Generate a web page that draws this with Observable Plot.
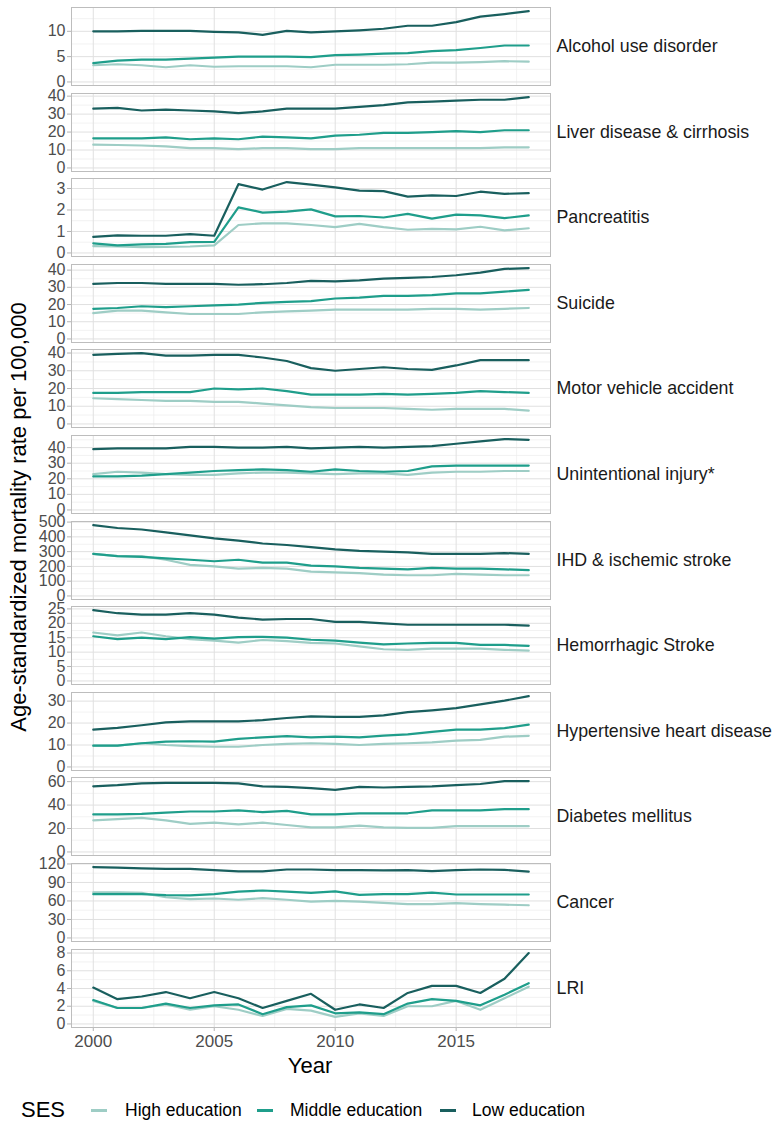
<!DOCTYPE html>
<html>
<head>
<meta charset="utf-8">
<script src="https://cdn.jsdelivr.net/npm/d3@7"></script>
<script src="https://cdn.jsdelivr.net/npm/@observablehq/plot@0.6"></script>
<style>
  body { margin: 0; background: #fff; font-family: "Liberation Sans", Arial, sans-serif; }
  #chart { position: relative; width: 775px; height: 1122px; overflow: hidden; background: #fff; }
  .panel { position: absolute; left: 0; }
  .ytitle { position: absolute; left: 19px; top: 517px; transform: translate(-50%, -50%) rotate(-90deg); white-space: nowrap; font-size: 22px; color: #000; }
  .xtitle { position: absolute; left: 310px; top: 1066px; transform: translate(-50%, -50%); font-size: 22px; color: #000; }
  .leg { position: absolute; top: 1110px; transform: translateY(-50%); white-space: nowrap; color: #000; }
  .key { position: absolute; top: 1109px; height: 2.5px; width: 16px; }
</style>
</head>
<body>
<div id="chart"></div>
<script>
// ---------- data ----------
const years = [2000, 2001, 2002, 2003, 2004, 2005, 2006, 2007, 2008, 2009, 2010, 2011, 2012, 2013, 2014, 2015, 2016, 2017, 2018];
const sesNames = ["High education", "Middle education", "Low education"];
const sesColors = ["#9ecdc5", "#1f9e8b", "#195f5e"];

const alcoholHigh   = [3.3, 3.5, 3.3, 2.9, 3.3, 3.0, 3.1, 3.1, 3.1, 2.9, 3.4, 3.4, 3.4, 3.5, 3.8, 3.8, 3.9, 4.1, 4.0];
const alcoholMiddle = [3.7, 4.2, 4.4, 4.4, 4.6, 4.8, 5.0, 5.0, 5.0, 4.9, 5.3, 5.4, 5.6, 5.7, 6.1, 6.3, 6.7, 7.2, 7.2];
const alcoholLow    = [10.0, 10.0, 10.1, 10.1, 10.1, 9.9, 9.8, 9.3, 10.1, 9.8, 10.0, 10.2, 10.5, 11.1, 11.1, 11.8, 12.9, 13.4, 14.0];

const liverHigh   = [13, 12.8, 12.5, 12, 11, 11, 10.5, 11, 11, 10.5, 10.5, 11, 11, 11, 11, 11, 11, 11.5, 11.5];
const liverMiddle = [16.5, 16.5, 16.5, 17, 16, 16.5, 16, 17.5, 17, 16.5, 18, 18.5, 19.5, 19.5, 20, 20.5, 20, 21, 21];
const liverLow    = [33, 33.5, 32, 32.5, 32, 31.5, 30.5, 31.5, 33, 33, 33, 34, 35, 36.5, 37, 37.5, 38, 38, 39.5];

const pancHigh   = [0.32, 0.30, 0.27, 0.28, 0.30, 0.35, 1.30, 1.38, 1.38, 1.30, 1.20, 1.35, 1.20, 1.08, 1.12, 1.10, 1.22, 1.05, 1.15];
const pancMiddle = [0.45, 0.35, 0.40, 0.42, 0.50, 0.52, 2.12, 1.88, 1.92, 2.03, 1.70, 1.72, 1.65, 1.82, 1.60, 1.78, 1.75, 1.62, 1.75];
const pancLow    = [0.75, 0.82, 0.80, 0.80, 0.88, 0.80, 3.20, 2.95, 3.30, 3.18, 3.05, 2.90, 2.88, 2.62, 2.68, 2.65, 2.85, 2.75, 2.78];

const suicideHigh   = [15, 16.5, 16.5, 15.5, 14.5, 14.5, 14.5, 15.5, 16, 16.5, 17, 17, 17, 17, 17.5, 17.5, 17, 17.5, 18];
const suicideMiddle = [17.5, 18, 19, 18.5, 19, 19.5, 20, 21, 21.5, 22, 23.5, 24, 25, 25, 25.5, 26.5, 26.5, 27.5, 28.5];
const suicideLow    = [32, 32.5, 32.5, 32, 32, 32, 31.5, 31.8, 32.5, 33.8, 33.5, 34, 35, 35.5, 36, 37, 38.5, 40.7, 41.2];

const mvaHigh   = [14.5, 14, 13.5, 13, 13, 12.5, 12.5, 11.5, 10.5, 9.5, 9, 9, 9, 8.5, 8, 8.5, 8.5, 8.5, 7.5];
const mvaMiddle = [17.5, 17.5, 18, 18, 18, 20, 19.5, 20, 18.5, 16.5, 16.5, 16.5, 17, 16.5, 17, 17.5, 18.5, 18, 17.5];
const mvaLow    = [39, 39.5, 40, 38.5, 38.5, 39, 39, 37.5, 35.5, 31.5, 30, 31, 32, 31, 30.5, 33, 36, 36, 36];

const injuryHigh   = [23, 24.5, 24, 23, 22.5, 22.5, 23.5, 24, 24, 23.5, 23, 23.5, 23.5, 22.5, 24, 24.5, 24.5, 25, 25];
const injuryMiddle = [21.5, 21.5, 22, 23, 24, 25, 25.5, 26, 25.5, 24.5, 26, 25, 24.5, 25, 28, 28.5, 28.5, 28.5, 28.5];
const injuryLow    = [39, 39.5, 39.5, 39.5, 40.5, 40.5, 40, 40, 40.5, 39.5, 40, 40.5, 40, 40.5, 41, 42.5, 44, 45.5, 45];

const ihdHigh   = [285, 270, 270, 245, 210, 200, 185, 190, 185, 165, 160, 155, 145, 140, 140, 150, 145, 140, 140];
const ihdMiddle = [285, 270, 265, 255, 245, 235, 245, 225, 225, 205, 200, 190, 185, 180, 190, 185, 185, 180, 175];
const ihdLow    = [480, 460, 450, 430, 410, 390, 375, 355, 345, 330, 315, 305, 300, 295, 285, 285, 285, 290, 285];

const hemHigh   = [16.8, 15.8, 16.8, 15.5, 14.5, 14, 13.3, 14.2, 13.8, 13.2, 13, 12, 11, 10.8, 11.2, 11.2, 11.2, 10.8, 10.5];
const hemMiddle = [15.5, 14.5, 15, 14.5, 15.2, 14.7, 15.2, 15.3, 15, 14.3, 14, 13.3, 12.7, 13, 13.2, 13.2, 12.5, 12.5, 12.2];
const hemLow    = [24.6, 23.5, 23, 23, 23.5, 23, 22, 21.3, 21.5, 21.5, 20.5, 20.5, 20, 19.5, 19.5, 19.5, 19.5, 19.5, 19.2];

const hhdHigh   = [9.7, 9.7, 10.8, 10, 9.5, 9.2, 9.2, 10, 10.5, 10.8, 10.5, 10, 10.5, 10.8, 11.2, 12, 12.3, 13.8, 14.2];
const hhdMiddle = [9.7, 9.7, 10.8, 11.5, 11.7, 11.5, 12.8, 13.5, 14, 13.5, 13.8, 13.5, 14.3, 14.8, 16, 17, 17, 17.7, 19.3];
const hhdLow    = [17, 17.8, 19, 20.3, 20.8, 20.8, 20.8, 21.3, 22.3, 23, 22.8, 22.8, 23.5, 25, 25.8, 26.8, 28.5, 30.2, 32.3];

const diabHigh   = [27, 28, 29, 27, 24, 25, 23.5, 25, 23, 21, 21, 22.5, 21, 20.5, 20.5, 22, 22, 22, 22];
const diabMiddle = [32, 32, 32.5, 33.5, 34.5, 34.5, 35.5, 34, 35, 32, 32, 33, 33, 33, 35.5, 35.5, 35.5, 36.5, 36.5];
const diabLow    = [56, 57, 58.5, 59, 59, 59, 58.5, 56, 55.5, 54.5, 53, 55.5, 55, 55.5, 56, 57, 58, 60.5, 60.5];

const cancerHigh   = [74, 74, 73, 66, 63, 64, 62, 64.5, 62, 59, 60, 59, 57, 55, 55, 56.5, 55, 54, 53];
const cancerMiddle = [71, 71, 71, 69.5, 69, 71, 75, 77, 75, 73, 75.5, 70, 71, 71, 73.5, 70.5, 70.5, 70.5, 70.5];
const cancerLow    = [115, 114, 113, 112, 112, 110, 108, 108, 111, 111, 110, 110, 109.5, 110, 108.5, 110, 111, 110.5, 107.5];

const lriHigh   = [2.6, 1.8, 1.8, 2.2, 1.6, 2.0, 1.6, 0.9, 1.7, 1.5, 0.8, 1.2, 0.9, 2.0, 2.0, 2.6, 1.6, 2.9, 4.2];
const lriMiddle = [2.7, 1.8, 1.8, 2.3, 1.8, 2.1, 2.2, 1.1, 1.9, 2.1, 1.2, 1.3, 1.1, 2.3, 2.8, 2.6, 2.1, 3.3, 4.6];
const lriLow    = [4.1, 2.8, 3.1, 3.6, 2.9, 3.6, 2.9, 1.8, 2.6, 3.4, 1.6, 2.2, 1.8, 3.5, 4.3, 4.3, 3.5, 5.1, 8.0];

const causeNames = ["Alcohol use disorder", "Liver disease & cirrhosis", "Pancreatitis", "Suicide",
  "Motor vehicle accident", "Unintentional injury*", "IHD & ischemic stroke", "Hemorrhagic Stroke",
  "Hypertensive heart disease", "Diabetes mellitus", "Cancer", "LRI"];
const causeSeries = [
  [alcoholHigh, alcoholMiddle, alcoholLow], [liverHigh, liverMiddle, liverLow], [pancHigh, pancMiddle, pancLow],
  [suicideHigh, suicideMiddle, suicideLow], [mvaHigh, mvaMiddle, mvaLow], [injuryHigh, injuryMiddle, injuryLow],
  [ihdHigh, ihdMiddle, ihdLow], [hemHigh, hemMiddle, hemLow], [hhdHigh, hhdMiddle, hhdLow],
  [diabHigh, diabMiddle, diabLow], [cancerHigh, cancerMiddle, cancerLow], [lriHigh, lriMiddle, lriLow]];
const yTicks = [[0, 5, 10], [0, 10, 20, 30, 40], [0, 1, 2, 3], [0, 10, 20, 30, 40], [0, 10, 20, 30, 40],
  [0, 10, 20, 30, 40], [0, 100, 200, 300, 400, 500], [0, 5, 10, 15, 20, 25], [0, 10, 20, 30],
  [0, 20, 40, 60], [0, 30, 60, 90, 120], [0, 2, 4, 6, 8]];
const xTicks = [2000, 2005, 2010, 2015];
const xMinorTicks = [2002.5, 2007.5, 2012.5, 2017.5];

// ---------- layout ----------
const chart = document.getElementById("chart");
const FONT = "'Liberation Sans', Arial, sans-serif";
const top0 = 7, period = 85.6, ph = 78, pad = 12;

causeNames.forEach((name, i) => {
  const last = i === causeNames.length - 1;
  const rows = [];
  causeSeries[i].forEach((arr, s) => arr.forEach((v, j) => rows.push({year: years[j], value: v, ses: sesNames[s]})));
  const ymax = d3.max(rows, d => d.value);
  const lo = -0.05 * ymax, hi = 1.05 * ymax;
  const ticks = yTicks[i];
  const step = ticks[1] - ticks[0];
  const ext = [...ticks, ticks[ticks.length - 1] + step];
  const minor = d3.pairs(ext).map(([a, b]) => (a + b) / 2).filter(v => v >= lo && v <= hi);
  const mb = last ? 44 : pad;
  const plot = Plot.plot({
    width: 775,
    height: ph + pad + mb,
    marginLeft: 71, marginRight: 225, marginTop: pad, marginBottom: mb,
    x: {domain: [1999.1, 2018.9], axis: null},
    y: {domain: [lo, hi], axis: null},
    color: {domain: sesNames, range: sesColors},
    style: {fontFamily: FONT, background: "transparent", overflow: "visible"},
    marks: [
      Plot.ruleY(minor, {stroke: "#ececec", strokeWidth: 0.7}),
      Plot.ruleX(xMinorTicks, {stroke: "#ececec", strokeWidth: 0.7}),
      Plot.ruleY(ticks, {stroke: "#e0e0e0", strokeWidth: 1}),
      Plot.ruleX(xTicks, {stroke: "#e0e0e0", strokeWidth: 1}),
      Plot.axisY(ticks, {anchor: "left", tickSize: 4, tickPadding: 2, fontSize: 16, fill: "#4d4d4d", stroke: "#b3b3b3", label: null, tickFormat: d => String(d)}),
      last ? Plot.axisX(xTicks, {anchor: "bottom", tickSize: 4, tickPadding: 3, fontSize: 17, fill: "#4d4d4d", stroke: "#b3b3b3", label: null, tickFormat: d => String(d)}) : null,
      Plot.line(rows, {x: "year", y: "value", stroke: "ses", z: "ses", strokeWidth: 2.2}),
      Plot.frame({stroke: "#bdbdbd"}),
      Plot.text([name], {frameAnchor: "right", dx: 6, textAnchor: "start", fontSize: 17.8, fill: "#1a1a1a"})
    ]
  });
  plot.classList.add("panel");
  plot.style.top = (top0 + i * period - pad) + "px";
  chart.appendChild(plot);
});

// titles
const yt = document.createElement("div");
yt.className = "ytitle";
yt.textContent = "Age-standardized mortality rate per 100,000";
chart.appendChild(yt);
const xt = document.createElement("div");
xt.className = "xtitle";
xt.textContent = "Year";
chart.appendChild(xt);

// legend
const legTitle = document.createElement("div");
legTitle.className = "leg";
legTitle.style.left = "21px";
legTitle.style.fontSize = "22px";
legTitle.textContent = "SES";
chart.appendChild(legTitle);
const keyLeft = [91, 257, 440];
const textLeft = [125, 290, 472];
sesNames.forEach((n, k) => {
  const key = document.createElement("div");
  key.className = "key";
  key.style.left = keyLeft[k] + "px";
  key.style.background = sesColors[k];
  chart.appendChild(key);
  const t = document.createElement("div");
  t.className = "leg";
  t.style.left = textLeft[k] + "px";
  t.style.fontSize = "17.5px";
  t.textContent = n;
  chart.appendChild(t);
});
</script>
</body>
</html>
